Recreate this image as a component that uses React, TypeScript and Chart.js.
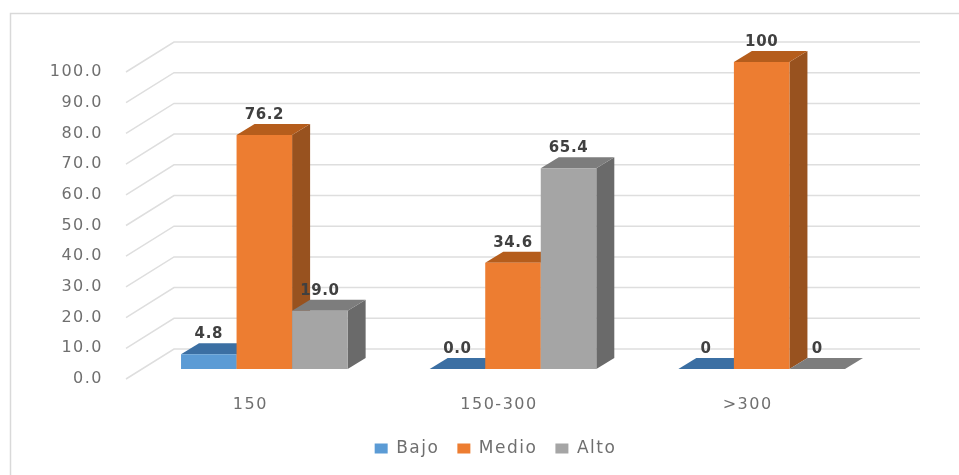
import { useEffect, useRef } from "react";
import { Chart, registerables } from "chart.js";

Chart.register(...registerables);

const categories = ["150", "150-300", ">300"];
const bajo = [4.8, 0, 0];
const medio = [76.2, 34.6, 100];
const alto = [19, 65.4, 0];
const bajoLabels = ["4.8", "0.0", "0"];
const medioLabels = ["76.2", "34.6", "100"];
const altoLabels = ["19.0", "65.4", "0"];

const TICK_FONT = "'DejaVu Sans'";
const TICK_COLOR = "#6f6f6f";
const GRID_COLOR = "#dedede";

// Oblique projection used for the floor, the back wall and the boxes.
const WALL_DX = 48;
const WALL_DY = 30;
const BAR_SHIFT_X = 14;
const BAR_SHIFT_Y = 10;
const BOX_DX = 18;
const BOX_DY = 11;

const faces = [
  { top: "#3b6fa3", side: "#34618f" },
  { top: "#b55d1c", side: "#98521f" },
  { top: "#7d7d7d", side: "#6a6a6a" },
];
const valueLabels = [bajoLabels, medioLabels, altoLabels];

const spacing = (chart: any, px: string) => {
  chart.ctx.letterSpacing = px;
};

const depthPlugin = {
  id: "depth",
  beforeLayout(chart: any) {
    spacing(chart, "1.5px");
  },
  beforeDraw(chart: any) {
    const { ctx, width, height } = chart;
    spacing(chart, "1.5px");
    ctx.save();
    ctx.strokeStyle = "#d9d9d9";
    ctx.lineWidth = 1.5;
    ctx.beginPath();
    ctx.moveTo(10.5, height + 5);
    ctx.lineTo(10.5, 13.5);
    ctx.lineTo(width + 5, 13.5);
    ctx.stroke();
    ctx.restore();
  },
  beforeDatasetsDraw(chart: any) {
    const { ctx, chartArea } = chart;
    const yScale = chart.scales.y;
    ctx.save();
    ctx.strokeStyle = GRID_COLOR;
    ctx.lineWidth = 1.5;
    yScale.ticks.forEach((t: any) => {
      const y = yScale.getPixelForValue(t.value);
      ctx.beginPath();
      ctx.moveTo(chartArea.left, y);
      ctx.lineTo(chartArea.left + WALL_DX, y - WALL_DY);
      ctx.lineTo(chartArea.right + WALL_DX, y - WALL_DY);
      ctx.stroke();
    });
    ctx.restore();
  },
  // Boxes are painted left to right further down, so the default pass is skipped.
  beforeDatasetDraw() {
    return false;
  },
  afterDatasetsDraw(chart: any) {
    const { ctx } = chart;
    const metas = chart.data.datasets.map((_: any, i: number) => chart.getDatasetMeta(i));
    ctx.save();
    ctx.translate(BAR_SHIFT_X, -BAR_SHIFT_Y);
    metas.forEach((meta: any, i: number) => {
      meta.data.forEach((bar: any) => {
        const left = bar.x - bar.width / 2;
        const right = bar.x + bar.width / 2;
        ctx.fillStyle = faces[i].side;
        ctx.beginPath();
        ctx.moveTo(right, bar.y);
        ctx.lineTo(right + BOX_DX, bar.y - BOX_DY);
        ctx.lineTo(right + BOX_DX, bar.base - BOX_DY);
        ctx.lineTo(right, bar.base);
        ctx.closePath();
        ctx.fill();
        ctx.fillStyle = faces[i].top;
        ctx.beginPath();
        ctx.moveTo(left, bar.y);
        ctx.lineTo(left + BOX_DX, bar.y - BOX_DY);
        ctx.lineTo(right + BOX_DX, bar.y - BOX_DY);
        ctx.lineTo(right, bar.y);
        ctx.closePath();
        ctx.fill();
      });
      meta.controller.draw();
    });
    ctx.letterSpacing = "0.6px";
    ctx.font = "bold 15px 'DejaVu Sans'";
    ctx.fillStyle = "#404040";
    ctx.textAlign = "center";
    ctx.textBaseline = "middle";
    metas.forEach((meta: any, i: number) => {
      meta.data.forEach((bar: any, j: number) => {
        ctx.fillText(valueLabels[i][j], bar.x, bar.y - 20);
      });
    });
    ctx.restore();
  },
};

export default function App() {
  const ref = useRef<HTMLCanvasElement>(null);

  useEffect(() => {
    const barStyle = { barPercentage: 1, categoryPercentage: 0.67, borderWidth: 0 };
    const chart = new Chart(ref.current as HTMLCanvasElement, {
      type: "bar",
      data: {
        labels: categories,
        datasets: [
          { label: "Bajo", data: bajo, backgroundColor: "#5b9bd5", ...barStyle },
          { label: "Medio", data: medio, backgroundColor: "#ed7d31", ...barStyle },
          { label: "Alto", data: alto, backgroundColor: "#a5a5a5", ...barStyle },
        ],
      },
      options: {
        responsive: false,
        animation: false,
        layout: { padding: { top: 72, left: 32, right: 0, bottom: 8 } },
        plugins: {
          tooltip: { enabled: false },
          legend: {
            position: "bottom",
            labels: {
              boxWidth: 13,
              boxHeight: 10,
              padding: 18,
              color: TICK_COLOR,
              font: { family: TICK_FONT, size: 17 },
            },
          },
        },
        scales: {
          x: {
            grid: { display: false, drawTicks: false },
            border: { display: false },
            ticks: {
              color: TICK_COLOR,
              padding: 16,
              font: { family: TICK_FONT, size: 16 },
            },
            afterFit: (s: any) => {
              s.height = 43;
            },
          },
          y: {
            min: 0,
            max: 100,
            grid: { display: false, drawTicks: false },
            border: { display: false },
            ticks: {
              stepSize: 10,
              color: TICK_COLOR,
              padding: 23,
              font: { family: TICK_FONT, size: 16 },
              callback: (v: any) => Number(v).toFixed(1),
            },
            afterFit: (s: any) => {
              s.width = 94;
            },
          },
          // Keeps the plot clear of the room the back wall takes on the right.
          wall: {
            position: "right",
            min: 0,
            max: 100,
            grid: { display: false, drawTicks: false },
            border: { display: false },
            ticks: { display: false },
            afterFit: (s: any) => {
              s.width = 87;
            },
          },
        },
      },
      plugins: [depthPlugin],
    } as any);
    return () => chart.destroy();
  }, []);

  return (
    <div style={{ position: "absolute", left: 0, top: 0, width: 959, height: 475, overflow: "hidden", background: "#fff" }}>
      <canvas ref={ref} width={959} height={475} style={{ display: "block" }} />
    </div>
  );
}
